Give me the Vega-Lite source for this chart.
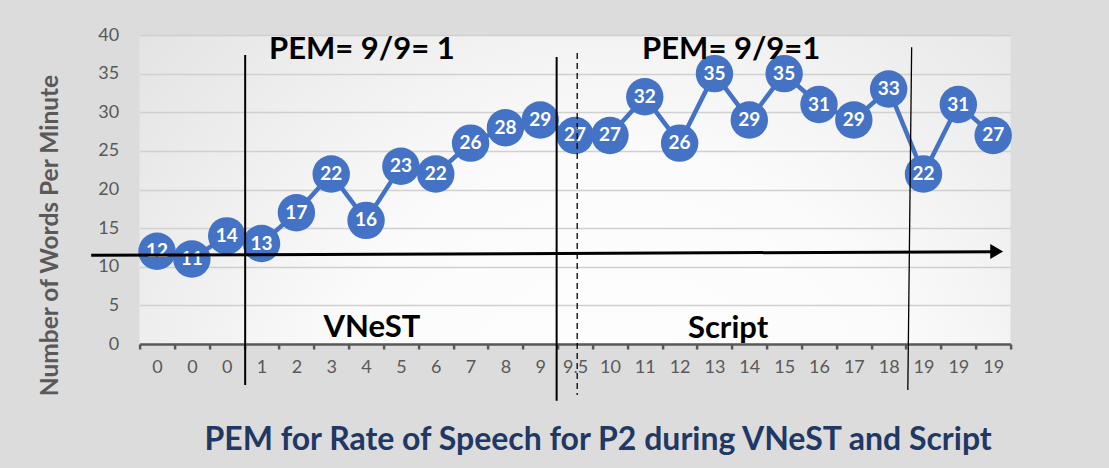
{
  "$schema": "https://vega.github.io/schema/vega-lite/v6.json",
  "autosize": {"type": "none"},
  "width": 871,
  "height": 309,
  "padding": {"left": 139.6, "top": 35, "right": 98.4, "bottom": 124},
  "background": "#dcdcdc",
  "config": {
    "font": "Lato",
    "view": {
      "stroke": null,
      "fill": {"gradient": "radial", "x1": 0.55, "y1": 0.8, "r1": 0, "x2": 0.55, "y2": 0.8, "r2": 0.85,
        "stops": [{"offset": 0, "color": "#ffffff"}, {"offset": 0.4, "color": "#fbfbfb"}, {"offset": 1, "color": "#dcdcdc"}]}
    }
  },
  "title": {
    "text": "PEM for Rate of Speech for P2 during VNeST and Script",
    "orient": "bottom",
    "anchor": "middle",
    "dx": 23,
    "offset": 23,
    "font": "Lato",
    "fontSize": 32,
    "fontWeight": "bold",
    "color": "#1f3864"
  },
  "datasets": {
    "pts": [
      {"x": 0, "lab": "0", "y": 12}, {"x": 1, "lab": "0", "y": 11}, {"x": 2, "lab": "0", "y": 14},
      {"x": 3, "lab": "1", "y": 13}, {"x": 4, "lab": "2", "y": 17}, {"x": 5, "lab": "3", "y": 22},
      {"x": 6, "lab": "4", "y": 16}, {"x": 7, "lab": "5", "y": 23}, {"x": 8, "lab": "6", "y": 22},
      {"x": 9, "lab": "7", "y": 26}, {"x": 10, "lab": "8", "y": 28}, {"x": 11, "lab": "9", "y": 29},
      {"x": 12, "lab": "9.5", "y": 27}, {"x": 13, "lab": "10", "y": 27}, {"x": 14, "lab": "11", "y": 32},
      {"x": 15, "lab": "12", "y": 26}, {"x": 16, "lab": "13", "y": 35}, {"x": 17, "lab": "14", "y": 29},
      {"x": 18, "lab": "15", "y": 35}, {"x": 19, "lab": "16", "y": 31}, {"x": 20, "lab": "17", "y": 29},
      {"x": 21, "lab": "18", "y": 33}, {"x": 22, "lab": "19", "y": 22}, {"x": 23, "lab": "19", "y": 31},
      {"x": 24, "lab": "19", "y": 27}
    ],
    "rules": [
      {"kind": "solid", "x": 2.53, "x2": 2.53, "y": 37.41, "y2": -5.31},
      {"kind": "solid", "x": 11.47, "x2": 11.47, "y": 37.15, "y2": -7.34},
      {"kind": "dashed", "x": 12.06, "x2": 12.06, "y": 37.67, "y2": -6.6},
      {"kind": "thin", "x": 21.66, "x2": 21.55, "y": 38.41, "y2": -5.95}
    ],
    "arrow": [
      {"x": -1.89, "y": 11.48},
      {"x": 24.1, "y": 11.95}
    ],
    "arrowhead": [
      {"x": 24.1, "y": 11.97}
    ],
    "notes": [
      {"x": 5.88, "y": 38.06, "t": "PEM= 9/9= 1"},
      {"x": 16.48, "y": 38.06, "t": "PEM= 9/9=1"},
      {"x": 6.17, "y": 2.07, "t": "VNeST"},
      {"x": 16.39, "y": 1.94, "t": "Script"}
    ]
  },
  "encoding": {
    "x": {
      "field": "x", "type": "quantitative",
      "scale": {"domain": [-0.5, 24.5], "nice": false, "zero": false},
      "axis": {
        "title": null,
        "values": [-0.5, 0.5, 1.5, 2.5, 3.5, 4.5, 5.5, 6.5, 7.5, 8.5, 9.5, 10.5, 11.5, 12.5, 13.5, 14.5, 15.5, 16.5, 17.5, 18.5, 19.5, 20.5, 21.5, 22.5, 23.5, 24.5],
        "labelExpr": "datum.value < 24 ? ['0','0','0','1','2','3','4','5','6','7','8','9','9.5','10','11','12','13','14','15','16','17','18','19','19','19'][datum.value + 0.5] : ''",
        "labelOffset": 17.42,
        "labelOverlap": false,
        "labelFlush": false,
        "labelBound": false,
        "labelFontSize": 18,
        "labelColor": "#595959",
        "labelPadding": 9,
        "tickSize": 5,
        "tickWidth": 2.5,
        "tickColor": "#595959",
        "domainColor": "#595959",
        "domainWidth": 2.5,
        "grid": false
      }
    },
    "y": {
      "field": "y", "type": "quantitative",
      "scale": {"domain": [0, 40], "nice": false},
      "axis": {
        "title": "Number of Words Per Minute",
        "titleFontSize": 24.5,
        "titleFontWeight": "bold",
        "titleColor": "#595959",
        "titleX": -89,
        "titleY": 200,
        "titleAngle": -90,
        "titleAlign": "center",
        "titleBaseline": "middle",
        "values": [0, 5, 10, 15, 20, 25, 30, 35, 40],
        "labelOverlap": false,
        "labelFontSize": 18,
        "labelColor": "#595959",
        "labelPadding": 21,
        "ticks": false,
        "domain": false,
        "grid": true,
        "gridColor": "#d0d0d0",
        "gridWidth": 1.5
      }
    }
  },
  "layer": [
    {
      "data": {"name": "pts"},
      "mark": {"type": "line", "color": "#4472c4", "strokeWidth": 4.5}
    },
    {
      "data": {"name": "pts"},
      "mark": {"type": "point", "filled": true, "opacity": 1, "color": "#4472c4", "size": 1400}
    },
    {
      "data": {"name": "pts"},
      "mark": {"type": "text", "color": "#ffffff", "fontWeight": "bold", "fontSize": 19, "align": "center", "baseline": "middle"},
      "encoding": {
        "text": {"field": "y", "type": "quantitative"}
      }
    },
    {
      "data": {"name": "rules"},
      "transform": [{"filter": "datum.kind == 'solid'"}],
      "mark": {"type": "rule", "color": "#000000", "strokeWidth": 2},
      "encoding": {
        "x2": {"field": "x2"},
        "y2": {"field": "y2"}
      }
    },
    {
      "data": {"name": "rules"},
      "transform": [{"filter": "datum.kind == 'dashed'"}],
      "mark": {"type": "rule", "color": "#000000", "strokeWidth": 1.3, "strokeDash": [6, 4]},
      "encoding": {
        "x2": {"field": "x2"},
        "y2": {"field": "y2"}
      }
    },
    {
      "data": {"name": "rules"},
      "transform": [{"filter": "datum.kind == 'thin'"}],
      "mark": {"type": "rule", "color": "#000000", "strokeWidth": 1.3},
      "encoding": {
        "x2": {"field": "x2"},
        "y2": {"field": "y2"}
      }
    },
    {
      "data": {"name": "arrow"},
      "mark": {"type": "line", "color": "#000000", "strokeWidth": 3}
    },
    {
      "data": {"name": "arrowhead"},
      "mark": {"type": "point", "shape": "triangle-right", "filled": true, "opacity": 1, "color": "#000000", "size": 220}
    },
    {
      "data": {"name": "notes"},
      "mark": {"type": "text", "color": "#000000", "fontWeight": "bold", "fontSize": 31, "align": "center", "baseline": "middle"},
      "encoding": {
        "text": {"field": "t", "type": "nominal"}
      }
    }
  ]
}
